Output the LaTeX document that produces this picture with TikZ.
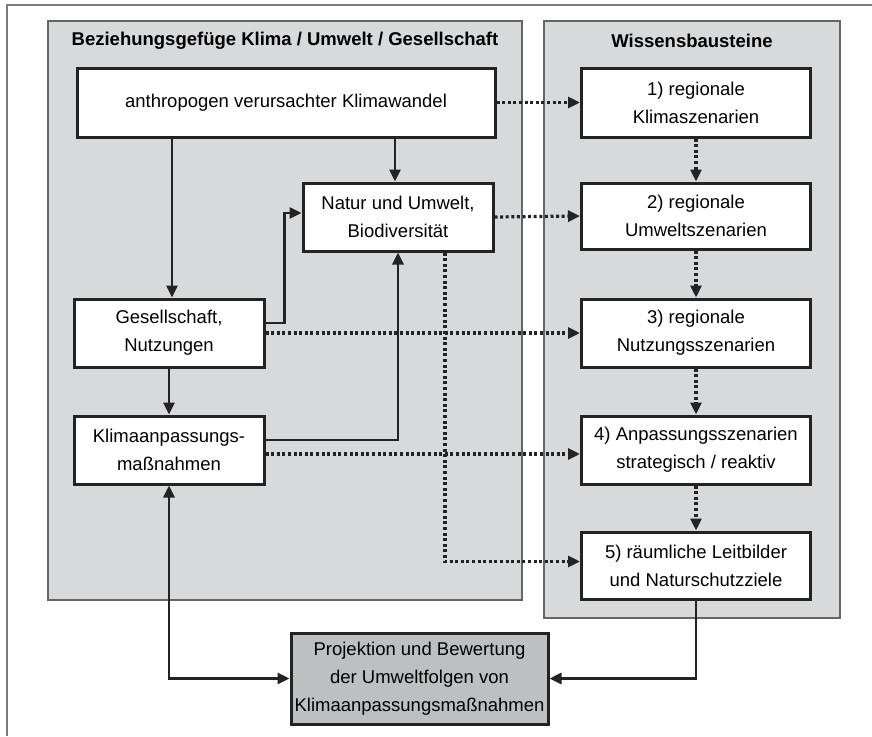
\documentclass[tikz,border=0pt]{standalone}
\usepackage{fontspec}
\setmainfont{Liberation Sans}
\usepackage{tikz}
\usetikzlibrary{arrows.meta}
\definecolor{panelgray}{RGB}{216,217,219}
\definecolor{projgray}{RGB}{190,191,193}
\definecolor{ink}{RGB}{35,35,35}

\begin{document}
\begin{tikzpicture}[x=1pt,y=-1pt,>={Triangle[length=12pt,width=11pt]},
  font=\fontsize{18.5}{28}\selectfont,
  panel/.style={draw=ink!70,line width=1.6pt,fill=panelgray},
  box/.style={draw=ink,line width=3pt,fill=white,align=center,inner sep=0pt,minimum width=#1},
  box/.default=190pt,
  conn/.style={ink,line width=2.8pt,->},
  dots/.style={ink,line width=3.2pt,dash pattern=on 3pt off 2.6pt,->}]
\useasboundingbox (0,0) rectangle (872,736);
\draw[ink!60,line width=2pt] (7,736)--(7,5)--(872,5);
\draw[panel] (48,21) rectangle (522,600);
\draw[panel] (544,21) rectangle (840,618);
\node[font=\fontsize{18.5}{28}\bfseries] (titleL) at (285,41) {Beziehungsgef\"uge Klima / Umwelt / Gesellschaft};
\node[font=\fontsize{18.5}{28}\bfseries] (titleR) at (692,41) {Wissensbausteine};
\node[box=418pt,minimum height=69pt] (anthro) at (286,102.5) {anthropogen verursachter Klimawandel};
\node[box,minimum height=68pt] (natur) at (398,217) {Natur und Umwelt,\\Biodiversit\"at};
\node[box,minimum height=68pt] (gesell) at (169,333) {Gesellschaft,\\Nutzungen};
\node[box,minimum height=68pt] (anpass) at (169,450) {Klimaanpassungs-\\ma\ss nahmen};
\node[box=229pt,minimum height=69pt] (wb1) at (696,102.5) {1) regionale\\Klimaszenarien};
\node[box=229pt,minimum height=66pt] (wb2) at (696,216) {2) regionale\\Umweltszenarien};
\node[box=229pt,minimum height=68pt] (wb3) at (696,333) {3) regionale\\Nutzungsszenarien};
\node[box=229pt,minimum height=68pt] (wb4) at (696,450) {4) Anpassungsszenarien\\strategisch / reaktiv};
\node[box=229pt,minimum height=67pt] (wb5) at (696,565.5) {5) r\"aumliche Leitbilder\\und Naturschutzziele};
\node[box=257pt,minimum height=91pt,fill=projgray] (proj) at (419.5,678.5) {Projektion und Bewertung\\der Umweltfolgen von\\Klimaanpassungsma\ss nahmen};
\draw[conn] ([xshift=3pt]gesell.north |- anthro.south) -- ([xshift=3pt]gesell.north);
\draw[conn] ([xshift=-3pt]natur.north |- anthro.south) -- ([xshift=-3pt]natur.north);
\draw[conn] (gesell.south) -- (anpass.north);
\draw[conn] ([yshift=10pt]gesell.east) -- ++(19,0) |- ([yshift=4pt]natur.west);
\draw[conn] ([yshift=10pt]anpass.east) -| (natur.south);
\draw[conn,<->] (anpass.south) |- (proj.west);
\draw[conn] (wb5.south) |- (proj.east);
\draw[dots] (anthro.east) -- (wb1.west);
\draw[dots] (natur.east) -- (wb2.west);
\draw[dots] (gesell.east) -- (wb3.west);
\draw[dots] ([yshift=-4pt]anpass.east) -- ([yshift=-4pt]wb4.west);
\draw[dots] ([xshift=47pt]natur.south) |- ([yshift=4pt]wb5.west);
\foreach \a/\b in {wb1/wb2,wb2/wb3,wb3/wb4,wb4/wb5} {\draw[dots] (\a.south) -- (\b.north);}
\end{tikzpicture}
\end{document}
